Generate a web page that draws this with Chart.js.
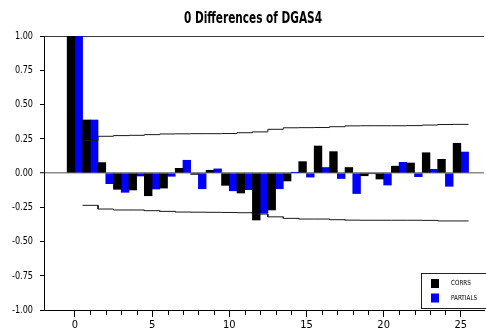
<!DOCTYPE html>
<html>
<head>
<meta charset="utf-8">
<script src="https://cdn.jsdelivr.net/npm/chart.js@4.4.1/dist/chart.umd.min.js"></script>
<style>
  html, body { margin: 0; padding: 0; background: #fff; }
  #wrap { width: 486px; height: 331px; }
</style>
</head>
<body>
<div id="wrap"><canvas id="c" width="486" height="331"></canvas></div>
<script>
// Autocorrelations and partial autocorrelations by lag
const lags = [0, 1, 2, 3, 4, 5, 6, 7, 8, 9, 10, 11, 12, 13, 14, 15, 16, 17, 18, 19, 20, 21, 22, 23, 24, 25];
const corrs = [1.00, 0.387, 0.076, -0.119, -0.124, -0.166, -0.110, 0.034, -0.010, 0.020, -0.090, -0.146,
               -0.343, -0.270, -0.058, 0.083, 0.197, 0.156, 0.040, -0.020, -0.044, 0.050, 0.073, 0.148, 0.100, 0.217];
const partials = [1.00, 0.387, -0.078, -0.141, -0.022, -0.117, -0.024, 0.093, -0.115, 0.030, -0.130, -0.122,
                  -0.294, -0.115, 0.004, -0.030, 0.040, -0.040, -0.150, -0.005, -0.088, 0.078, -0.027, 0.027, -0.097, 0.153];

// Two-standard-error bands, one step per lag
const bandLags = [1, 2, 3, 4, 5, 6, 7, 8, 9, 10, 11, 12, 13, 14, 15, 16, 17, 18, 19, 20, 21, 22, 23, 24, 25];
const upperBand = [0.236, 0.268, 0.273, 0.275, 0.280, 0.285, 0.286, 0.287, 0.287, 0.288, 0.294, 0.300, 0.319,
                   0.330, 0.331, 0.332, 0.338, 0.344, 0.345, 0.345, 0.345, 0.346, 0.350, 0.354, 0.355];
const lowerBand = [-0.236, -0.263, -0.270, -0.270, -0.275, -0.280, -0.285, -0.286, -0.287, -0.288, -0.290, -0.300, -0.320,
                   -0.331, -0.336, -0.336, -0.341, -0.344, -0.345, -0.345, -0.345, -0.345, -0.346, -0.350, -0.350];

const xTickLabels = ['0', '5', '10', '15', '20', '25'];
const yTickValues = [-1, -0.75, -0.5, -0.25, 0, 0.25, 0.5, 0.75, 1];

const FONT = "'Liberation Sans Narrow', 'DejaVu Sans Condensed', 'Arial Narrow', sans-serif";

function stepPoints(ks, vals) {
  const pts = [];
  ks.forEach((k, i) => {
    pts.push({ x: k - 0.5, y: vals[i] });
    pts.push({ x: k + 0.5, y: vals[i] });
  });
  return pts;
}

// Squeeze a drawing call horizontally about a fixed x, for a narrow typeface look
function squeezed(ctx, cx, factor, fn) {
  ctx.save();
  ctx.translate(cx, 0);
  ctx.scale(factor, 1);
  ctx.translate(-cx, 0);
  fn();
  ctx.restore();
}

// Boxed legend drawn in the lower-right corner of the plot
const boxLegend = {
  id: 'boxLegend',
  afterDatasetsDraw(chart) {
    const { ctx, chartArea } = chart;
    const items = chart.data.datasets.filter(d => d.type === 'bar');
    const left = chartArea.right - 63, top = chartArea.bottom - 37, bottom = chartArea.bottom - 2;
    ctx.save();
    ctx.fillStyle = '#fff';
    ctx.fillRect(left, top, chartArea.right + 6 - left, bottom - top);
    ctx.strokeStyle = '#222';
    ctx.lineWidth = 1;
    ctx.strokeRect(Math.round(left) + 0.5, Math.round(top) + 0.5, chartArea.right + 6 - left, bottom - top);
    ctx.font = '7px ' + FONT;
    ctx.textBaseline = 'middle';
    items.forEach((d, i) => {
      const sy = top + 6 + i * 14.5;
      ctx.fillStyle = d.backgroundColor;
      ctx.fillRect(left + 10, sy, 8, 9);
      ctx.fillStyle = '#000';
      squeezed(ctx, left + 30, 0.9, () => ctx.fillText(d.label, left + 30, sy + 4.5));
    });
    ctx.restore();
  }
};

// Minor (unlabelled) lag ticks below the x axis
const minorTicks = {
  id: 'minorTicks',
  afterDraw(chart) {
    const { ctx } = chart;
    const xs = chart.scales.x;
    const y0 = Math.round(xs.top);
    ctx.save();
    ctx.strokeStyle = '#000';
    ctx.lineWidth = 1;
    ctx.beginPath();
    lags.forEach(k => {
      if (xTickLabels.includes(String(k))) return;
      const px = Math.round(xs.getPixelForValue(k)) + 0.5;
      ctx.moveTo(px, y0);
      ctx.lineTo(px, y0 + 5);
    });
    ctx.stroke();
    ctx.restore();
  }
};

// Center the heading over the plotted region and give heading / value labels a condensed look
const narrowText = {
  id: 'narrowText',
  afterLayout(chart) {
    const t = chart.titleBlock;
    if (t) {
      t.left = 20;
      if (!t._narrow) {
        const draw = t.draw;
        t.draw = function () {
          const args = arguments;
          squeezed(this.ctx, (this.left + this.right) / 2, 0.78, () => draw.apply(this, args));
        };
        t._narrow = true;
      }
    }
    const ys = chart.scales.y;
    if (ys && !ys._narrow) {
      const drawLabels = ys.drawLabels;
      ys.drawLabels = function () {
        const args = arguments;
        squeezed(this.ctx, this.right - 11, 0.82, () => drawLabels.apply(this, args));
      };
      ys._narrow = true;
    }
  }
};

new Chart(document.getElementById('c'), {
  type: 'bar',
  data: {
    datasets: [
      { type: 'line', label: 'upper', data: stepPoints(bandLags, upperBand),
        borderColor: '#1a1a1a', borderWidth: 1, pointRadius: 0, tension: 0, fill: false, order: 0 },
      { type: 'line', label: 'lower', data: stepPoints(bandLags, lowerBand),
        borderColor: '#1a1a1a', borderWidth: 1, pointRadius: 0, tension: 0, fill: false, order: 0 },
      { type: 'bar', label: 'CORRS', data: lags.map((k, i) => ({ x: k, y: corrs[i] })),
        backgroundColor: '#000000', borderWidth: 0, barPercentage: 1, categoryPercentage: 1, order: 2 },
      { type: 'bar', label: 'PARTIALS', data: lags.map((k, i) => ({ x: k, y: partials[i] })),
        backgroundColor: '#0000ff', borderWidth: 0, barPercentage: 1, categoryPercentage: 1, order: 2 }
    ]
  },
  options: {
    responsive: false,
    animation: false,
    devicePixelRatio: 1,
    layout: { padding: { left: 0, right: 0, top: 0, bottom: 0 } },
    plugins: {
      legend: { display: false },
      tooltip: { enabled: false },
      title: {
        display: true,
        text: '0 Differences of DGAS4',
        color: '#000',
        font: { family: FONT, size: 15, weight: 'bold' },
        padding: { top: 10, bottom: 8 }
      }
    },
    scales: {
      x: {
        type: 'linear',
        min: -2,
        max: 26.5,
        offset: false,
        grid: {
          offset: false,
          drawOnChartArea: false,
          tickLength: 7,
          tickWidth: 1,
          tickColor: c => (c.tick && xTickLabels.includes(String(c.tick.value))) ? '#000' : 'rgba(0,0,0,0)'
        },
        border: { color: '#000', width: 1 },
        ticks: {
          stepSize: 1,
          autoSkip: false,
          maxRotation: 0,
          padding: 2,
          color: '#000',
          font: { family: FONT, size: 11 },
          callback: v => xTickLabels.includes(String(v)) ? String(v) : ''
        },
        afterFit: s => { s.height = 21; }
      },
      y: {
        min: -1,
        max: 1,
        afterBuildTicks: s => { s.ticks = yTickValues.map(v => ({ value: v })); },
        grid: {
          drawOnChartArea: true,
          color: c => {
            const v = c.tick ? c.tick.value : null;
            if (v === 0) return '#8a8a8a';
            if (v === 1) return '#3a3a3a';
            return 'rgba(0,0,0,0)';
          },
          lineWidth: c => (c.tick && c.tick.value === 0) ? 1.5 : 1,
          tickLength: 4,
          tickWidth: 1,
          tickColor: '#000'
        },
        border: { color: '#000', width: 1 },
        ticks: {
          padding: 7,
          color: '#000',
          font: { family: FONT, size: 11 },
          callback: v => Number(v).toFixed(2)
        },
        afterFit: s => { s.width = 44; }
      }
    }
  },
  plugins: [boxLegend, minorTicks, narrowText]
});
</script>
</body>
</html>
